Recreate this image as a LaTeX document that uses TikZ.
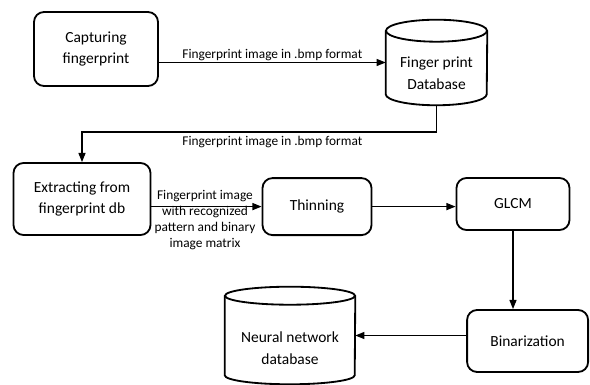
\documentclass[tikz,border=0pt]{standalone}
\usepackage{fontspec}
\setmainfont{Carlito}
\usetikzlibrary{arrows.meta,calc}

\tikzset{
  procbox/.style={draw,line width=1.3pt,rounded corners=0.25cm,align=center,
    inner sep=0pt,font=\fontsize{11}{15.5}\selectfont},
  drumbox/.style={inner sep=0pt},
  drumtext/.style={align=center,inner sep=0pt,font=\fontsize{11}{15.5}\selectfont},
  drumline/.style={line width=1.3pt},
  flow/.style={-{Triangle[length=6.5pt,width=5pt]},line width=0.9pt},
  flowlabel/.style={font=\fontsize{9.5}{11.3}\selectfont,align=center,inner sep=1pt}
}

% database drum round node #1, x radius #2, y radius #3
\newcommand{\drum}[3]{
  \draw [drumline] ($(#1.north)+(0,-#3)$) ellipse [x radius=#2, y radius=#3];
  \draw [drumline] ($(#1.north west)+(0,-#3)$) -- ($(#1.south west)+(0,#3)$)
    arc [start angle=180, end angle=360, x radius=#2, y radius=#3]
    -- ($(#1.north east)+(0,-#3)$);
}

\begin{document}
\begin{tikzpicture}
  \useasboundingbox (0,0) rectangle (14.75,9.625);

  \node [procbox,minimum width=3.1cm,minimum height=1.85cm]
    (cap) at (2.4,8.4) {Capturing\\fingerprint};

  \node [drumbox,minimum width=2.525cm,minimum height=2.125cm]
    (fpdb) at (10.9125,8.0625) {};
  \drum{fpdb}{1.2625}{0.275}
  \node [drumtext] (fpdbtext) at ($(fpdb)+(0,-0.275)$) {Finger print\\Database};

  \node [procbox,minimum width=3.425cm,minimum height=1.8cm]
    (extr) at (2.05,4.65) {Extracting from\\fingerprint db};
  \node [procbox,minimum width=2.725cm,minimum height=1.425cm]
    (thin) at (7.925,4.46) {Thinning};
  \node [procbox,minimum width=2.825cm,minimum height=1.3cm]
    (glcm) at (12.825,4.525) {GLCM};
  \node [procbox,minimum width=3.025cm,minimum height=1.55cm]
    (bin) at (13.19,1.1) {Binarization};

  \node [drumbox,minimum width=3.25cm,minimum height=2.425cm]
    (nndb) at (7.25,1.2375) {};
  \drum{nndb}{1.625}{0.225}
  \node [drumtext] (nndbtext) at ($(nndb)+(0,-0.3125)$) {Neural network\\database};

  \coordinate (turn) at (10.9125,6.325);

  \draw [flow] (cap.east |- fpdb.west) -- (fpdb.west)
    node [flowlabel,midway,above] {Fingerprint image in .bmp format};
  \draw [flow] (fpdb.south) -- (turn) -| (extr.north);
  \node [flowlabel] (lbl2) at (6.81,6.075) {Fingerprint image in .bmp format};
  \draw [flow] (extr.east |- thin.west) -- (thin.west);
  \node [flowlabel] (lbl3) at (5.125,4.125)
    {Fingerprint image\\with recognized\\pattern and binary\\image matrix};
  \draw [flow] (thin.east) -- (thin.east -| glcm.west);
  \draw [flow] (glcm.south) -- (glcm.south |- bin.north);
  \draw [flow] (bin.west |- nndb.east) -- (nndb.east);
\end{tikzpicture}
\end{document}
